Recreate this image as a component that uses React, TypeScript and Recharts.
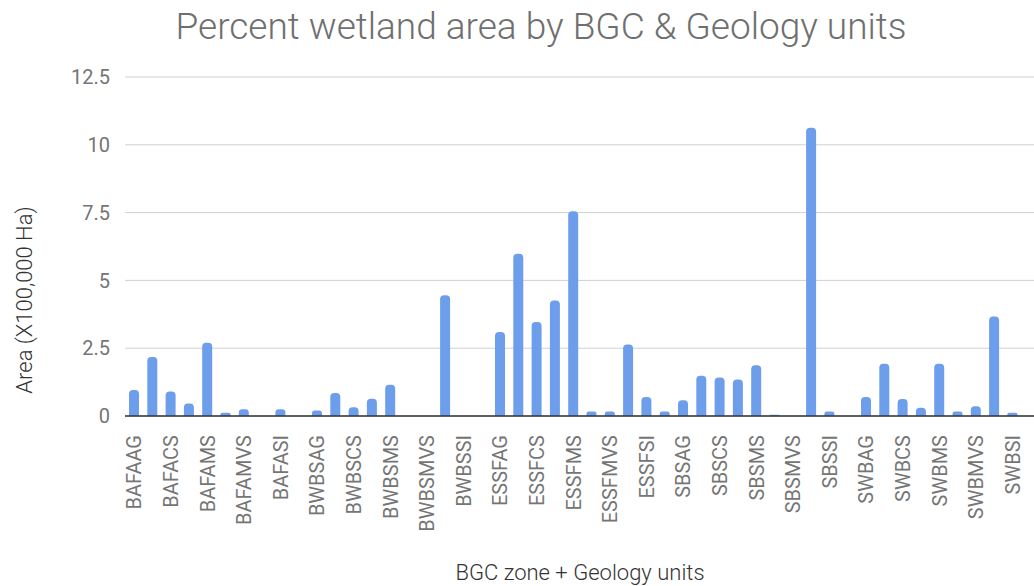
import React from "react"
import {
  BarChart,
  Bar,
  XAxis,
  YAxis,
  CartesianGrid,
} from "recharts"

// BGC zones x geology units (only every other label is drawn on the axis)
const zones = ["BAFA", "BWBS", "ESSF", "SBS", "SWB"]
const units = ["AG", "CB", "CS", "IB", "MS", "MV", "MVS", "SB", "SI", "UM"]
const categories = zones.flatMap((z) => units.map((u) => z + u))

// Area (X100,000 Ha)
const areas = [
  0.96, 2.18, 0.9, 0.46, 2.7, 0.12, 0.25, 0, 0.25, 0,
  0.2, 0.85, 0.32, 0.64, 1.15, 0, 0, 4.45, 0, 0,
  3.1, 5.98, 3.47, 4.26, 7.55, 0.17, 0.17, 2.64, 0.7, 0.17,
  0.58, 1.48, 1.42, 1.35, 1.87, 0.05, 0, 10.63, 0.17, 0,
  0.7, 1.93, 0.63, 0.3, 1.93, 0.17, 0.36, 3.67, 0.12, 0,
]

const yTicks = [0, 2.5, 5, 7.5, 10, 12.5]

const data = categories.map((name, i) => ({ name, area: areas[i] }))

const FONT = "Roboto, 'Noto Sans', sans-serif"
const GREY = "#757575"

const RotatedTick = ({ x, y, payload }: any) => (
  <g transform={`translate(${x},${y})`}>
    <text
      transform="rotate(-90)"
      x={-11}
      y={0}
      dy="0.36em"
      textAnchor="end"
      fontSize={20}
      fontFamily={FONT}
      fill={GREY}
    >
      {payload.value}
    </text>
  </g>
)

export default function App() {
  return (
    <div
      style={{
        position: "absolute",
        left: 0,
        top: 0,
        width: 1034,
        height: 586,
        overflow: "hidden",
        background: "#fff",
        fontFamily: FONT,
      }}
    >
      <div
        style={{
          position: "absolute",
          left: 0,
          width: 1082,
          top: 5,
          textAlign: "center",
          fontSize: 37,
          fontWeight: 300,
          color: "#6f6f6f",
          whiteSpace: "nowrap",
        }}
      >
        Percent wetland area by BGC &amp; Geology units
      </div>
      <div
        style={{
          position: "absolute",
          left: 24,
          top: 300,
          transform: "translate(-50%, -50%) rotate(-90deg)",
          fontSize: 22,
          fontWeight: 300,
          color: "#333",
          whiteSpace: "nowrap",
        }}
      >
        Area (X100,000 Ha)
      </div>
      <div
        style={{
          position: "absolute",
          left: 580,
          top: 572,
          transform: "translate(-50%, -50%)",
          fontSize: 22,
          fontWeight: 300,
          color: "#333",
          whiteSpace: "nowrap",
        }}
      >
        BGC zone + Geology units
      </div>
      <div style={{ position: "absolute", left: 0, top: 0 }}>
        <BarChart
          width={1050}
          height={586}
          data={data}
          margin={{ top: 77, right: 10, left: 0, bottom: 0 }}
          barCategoryGap={0}
        >
          <CartesianGrid vertical={false} stroke="#d0d0d0" />
          <XAxis
            dataKey="name"
            interval={1}
            height={170}
            tick={<RotatedTick />}
            tickLine={false}
            axisLine={{ stroke: "#333", strokeWidth: 1.5 }}
          />
          <YAxis
            width={125}
            domain={[0, 12.5]}
            ticks={yTicks}
            tick={{ fontSize: 20, fill: GREY, fontFamily: FONT }}
            tickMargin={9}
            axisLine={false}
            tickLine={false}
          />
          <Bar
            dataKey="area"
            fill="#6d9eeb"
            barSize={10}
            radius={[4, 4, 0, 0]}
            isAnimationActive={false}
          />
        </BarChart>
      </div>
    </div>
  )
}
